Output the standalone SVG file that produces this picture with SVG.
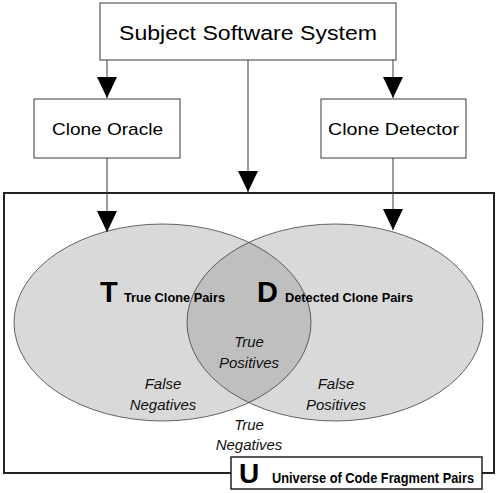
<svg xmlns="http://www.w3.org/2000/svg" width="498" height="493" viewBox="0 0 498 493">
<defs>
<style>
.box{fill:#fff;stroke:#3a3a3a;stroke-width:1}
.conn{stroke:#3a3a3a;stroke-width:1;fill:none}
.lbl{font-family:"Liberation Sans",Arial,sans-serif;fill:#000}
.it{font-family:"Liberation Sans",Arial,sans-serif;font-style:italic;font-size:15px;fill:#111;text-anchor:middle}
.bd{font-family:"Liberation Sans",Arial,sans-serif;font-weight:bold;fill:#000}
.ell{fill:none;stroke:#404040;stroke-width:0.8}
</style>
<marker id="ah" markerWidth="21" markerHeight="20" refX="21" refY="10" orient="auto" markerUnits="userSpaceOnUse">
<path d="M0,0 L21,10 L0,20 Z" fill="#000"/>
</marker>
<clipPath id="clipL"><ellipse cx="162.5" cy="322.5" rx="148.5" ry="98.5"/></clipPath>
</defs>

<g id="universe">
<rect x="4" y="193" width="490" height="280" fill="#fff" stroke="#222" stroke-width="2"/>
</g>

<g id="venn">
<ellipse cx="162.5" cy="322.5" rx="148.5" ry="98.5" fill="#d9d9d9"/>
<ellipse cx="335" cy="322.5" rx="148" ry="98.5" fill="#d9d9d9"/>
<ellipse cx="335" cy="322.5" rx="148" ry="98.5" fill="#bfbfbf" clip-path="url(#clipL)"/>
<ellipse class="ell" cx="162.5" cy="322.5" rx="148.5" ry="98.5"/>
<ellipse class="ell" cx="335" cy="322.5" rx="148" ry="98.5"/>
</g>

<g id="connectors">
<line class="conn" x1="107" y1="60" x2="107" y2="98" marker-end="url(#ah)"/>
<line class="conn" x1="393" y1="60" x2="393" y2="98" marker-end="url(#ah)"/>
<line class="conn" x1="248" y1="60" x2="248" y2="192" marker-end="url(#ah)"/>
<line class="conn" x1="107" y1="158" x2="107" y2="232" marker-end="url(#ah)"/>
<line class="conn" x1="393" y1="158" x2="393" y2="230" marker-end="url(#ah)"/>
</g>

<g id="subject">
<rect class="box" x="100" y="3" width="296" height="57"/>
<text class="lbl" x="119" y="40" font-size="20" textLength="258" lengthAdjust="spacingAndGlyphs">Subject Software System</text>
</g>

<g id="oracle">
<rect class="box" x="34" y="99" width="146" height="59"/>
<text class="lbl" x="52" y="135" font-size="17" textLength="111" lengthAdjust="spacingAndGlyphs">Clone Oracle</text>
</g>

<g id="detector">
<rect class="box" x="321" y="99" width="145" height="59"/>
<text class="lbl" x="328" y="135" font-size="17" textLength="131" lengthAdjust="spacingAndGlyphs">Clone Detector</text>
</g>

<g id="setT">
<text class="bd" x="100" y="302" font-size="29">T</text>
<text class="bd" x="124" y="302" font-size="13" textLength="101" lengthAdjust="spacingAndGlyphs">True Clone Pairs</text>
</g>

<g id="setD">
<text class="bd" x="257" y="302" font-size="29">D</text>
<text class="bd" x="285" y="302" font-size="13" textLength="128" lengthAdjust="spacingAndGlyphs">Detected Clone Pairs</text>
</g>

<g id="regions">
<text class="it" x="249" y="347">True</text>
<text class="it" x="249" y="368">Positives</text>
<text class="it" x="163" y="389">False</text>
<text class="it" x="163" y="410">Negatives</text>
<text class="it" x="336" y="389">False</text>
<text class="it" x="336" y="410">Positives</text>
<text class="it" x="249" y="430">True</text>
<text class="it" x="249" y="450">Negatives</text>
</g>

<g id="universeLabel">
<rect x="231" y="457" width="251" height="32" fill="#fff" stroke="#222" stroke-width="1.5"/>
<text class="bd" x="239" y="483" font-size="28">U</text>
<text class="bd" x="272" y="483" font-size="14" textLength="202" lengthAdjust="spacingAndGlyphs">Universe of Code Fragment Pairs</text>
</g>
</svg>
